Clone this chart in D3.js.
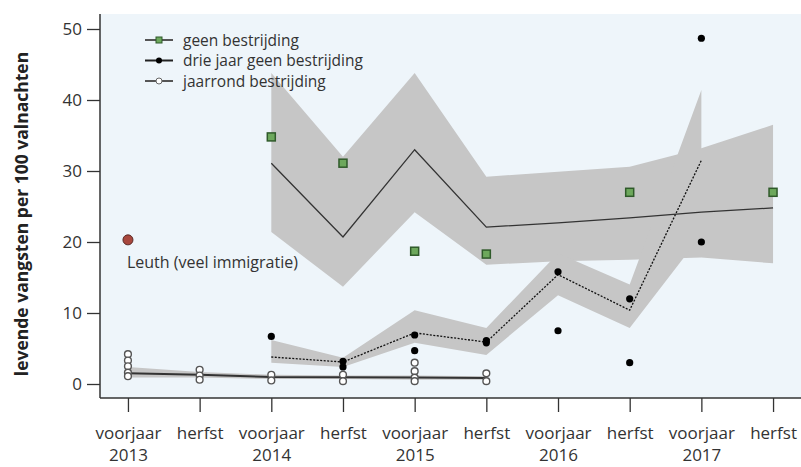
<!DOCTYPE html>
<html>
<head>
<meta charset="utf-8">
<script src="https://cdn.jsdelivr.net/npm/d3@7"></script>
<style>
  body { margin: 0; background: #fff; }
  svg { display: block; font-family: "Open Sans", sans-serif; }
</style>
</head>
<body>
<div class="graph"></div>
<script>
// periods on the x axis
var periods = ["voorjaar 2013", "herfst 2013", "voorjaar 2014", "herfst 2014", "voorjaar 2015",
               "herfst 2015", "voorjaar 2016", "herfst 2016", "voorjaar 2017", "herfst 2017"];
var seasonLabels = ["voorjaar", "herfst", "voorjaar", "herfst", "voorjaar", "herfst", "voorjaar", "herfst", "voorjaar", "herfst"];
var yearLabels = ["2013", "", "2014", "", "2015", "", "2016", "", "2017", ""];
var yTicks = [0, 10, 20, 30, 40, 50];

// geen bestrijding (green squares + fit + band)
var geenIdx = [2, 3, 4, 5, 7, 9];
var geenVals = [34.8, 31.1, 18.7, 18.3, 27.0, 27.0];
var geenFitIdx = [2, 3, 4, 5, 6, 7, 8, 9];
var geenFit = [31.1, 20.7, 33.0, 22.1, 22.7, 23.4, 24.2, 24.8];
var geenLow = [21.4, 13.7, 24.2, 16.8, 17.3, 17.5, 17.8, 17.0];
var geenHigh = [43.8, 32.0, 43.8, 29.2, 29.9, 30.6, 33.2, 36.5];

// drie jaar geen bestrijding (black dots + fit + band)
var drieIdx = [2, 3, 3, 4, 4, 5, 5, 6, 6, 7, 7, 8, 8];
var drieVals = [6.7, 3.2, 2.4, 6.9, 4.7, 6.1, 5.8, 15.8, 7.5, 12.0, 3.0, 48.7, 20.0];
var drieFitIdx = [2, 3, 4, 5, 6, 7, 8];
var drieFit = [3.8, 3.1, 7.2, 5.9, 15.4, 10.4, 31.5];
var drieLow = [3.0, 2.4, 5.8, 4.1, 12.5, 7.9, 21.0];
var drieHigh = [6.2, 3.7, 10.4, 7.9, 18.4, 14.0, 41.4];

// jaarrond bestrijding (open circles + fit + band)
var jaarIdx = [0, 0, 0, 0, 0, 1, 1, 1, 2, 2, 3, 3, 4, 4, 4, 4, 5, 5];
var jaarVals = [4.2, 3.3, 2.5, 1.6, 1.1, 2.0, 1.2, 0.6, 1.3, 0.5, 1.3, 0.4, 3.0, 1.8, 0.9, 0.4, 1.5, 0.4];
var jaarFitIdx = [0, 1, 2, 3, 4, 5];
var jaarFit = [1.5, 1.3, 1.0, 0.95, 0.9, 0.85];
var jaarLow = [0.9, 0.9, 0.7, 0.7, 0.6, 0.6];
var jaarHigh = [2.4, 1.7, 1.3, 1.2, 1.2, 1.1];

// Leuth
var leuthIdx = 0;
var leuthVal = 20.3;

var legendNames = ["geen bestrijding", "drie jaar geen bestrijding", "jaarrond bestrijding"];

var W = 801, H = 467;
var plot = { left: 100, right: 801, top: 14, bottom: 398 };

var svg = d3.select(".graph").append("svg").attr("width", W).attr("height", H);

var x = d3.scalePoint().domain(d3.range(periods.length))
    .range([plot.left, plot.right]).padding(0.39);
var y = d3.scaleLinear().domain([0, 50]).range([384, 29]);

// background
svg.append("rect").attr("x", plot.left).attr("y", plot.top)
  .attr("width", plot.right - plot.left).attr("height", plot.bottom - plot.top)
  .attr("fill", "#eef5fa");

function zip(idx, vals) { return idx.map(function (d, i) { return { i: d, v: vals[i] }; }); }
function band(idx, lo, hi) { return idx.map(function (d, i) { return { i: d, lo: lo[i], hi: hi[i] }; }); }

var area = d3.area().x(function (d) { return x(d.i); })
  .y0(function (d) { return y(d.lo); }).y1(function (d) { return y(d.hi); });
var line = d3.line().x(function (d) { return x(d.i); }).y(function (d) { return y(d.v); });

var g = svg.append("g");

// bands
[band(geenFitIdx, geenLow, geenHigh), band(drieFitIdx, drieLow, drieHigh), band(jaarFitIdx, jaarLow, jaarHigh)]
  .forEach(function (b) {
    g.append("path").datum(b).attr("d", area).attr("fill", "#c6c6c6");
  });

// fit lines
g.append("path").datum(zip(geenFitIdx, geenFit)).attr("d", line)
  .attr("fill", "none").attr("stroke", "#333").attr("stroke-width", 1.3);
g.append("path").datum(zip(drieFitIdx, drieFit)).attr("d", line)
  .attr("fill", "none").attr("stroke", "#111").attr("stroke-width", 1.3).attr("stroke-dasharray", "2,1.5");
g.append("path").datum(zip(jaarFitIdx, jaarFit)).attr("d", line)
  .attr("fill", "none").attr("stroke", "#333").attr("stroke-width", 2);

// points
g.selectAll(".jaar").data(zip(jaarIdx, jaarVals)).enter().append("circle")
  .attr("cx", function (d) { return x(d.i); }).attr("cy", function (d) { return y(d.v); })
  .attr("r", 3.4).attr("fill", "#fff").attr("stroke", "#555").attr("stroke-width", 1.4);

g.selectAll(".drie").data(zip(drieIdx, drieVals)).enter().append("circle")
  .attr("cx", function (d) { return x(d.i); }).attr("cy", function (d) { return y(d.v); })
  .attr("r", 3.6).attr("fill", "#000");

g.selectAll(".geen").data(zip(geenIdx, geenVals)).enter().append("rect")
  .attr("x", function (d) { return x(d.i) - 4; }).attr("y", function (d) { return y(d.v) - 4; })
  .attr("width", 8).attr("height", 8)
  .attr("fill", "#6da85c").attr("stroke", "#2f5a2a").attr("stroke-width", 1.5);

g.append("circle").attr("cx", x(leuthIdx)).attr("cy", y(leuthVal)).attr("r", 5)
  .attr("fill", "#a8473d").attr("stroke", "#5a2a26").attr("stroke-width", 1);
g.append("text").attr("x", x(leuthIdx) - 1).attr("y", y(leuthVal) + 28)
  .attr("font-size", 16).attr("fill", "#333").text("Leuth (veel immigratie)");

// legend
var leg = svg.append("g").attr("transform", "translate(145,40)");
legendNames.forEach(function (name, k) {
  var row = leg.append("g").attr("transform", "translate(0," + (k * 20.5) + ")");
  row.append("line").attr("x1", 0).attr("x2", 28).attr("y1", 0).attr("y2", 0)
    .attr("stroke", k === 1 ? "#222" : "#555").attr("stroke-width", 2);
  if (k === 0) {
    row.append("rect").attr("x", 11).attr("y", -3).attr("width", 6).attr("height", 6)
      .attr("fill", "#6da85c").attr("stroke", "#2f5a2a").attr("stroke-width", 1);
  } else if (k === 1) {
    row.append("circle").attr("cx", 14).attr("cy", 0).attr("r", 3).attr("fill", "#000");
  } else {
    row.append("circle").attr("cx", 14).attr("cy", 0).attr("r", 3)
      .attr("fill", "#fff").attr("stroke", "#666").attr("stroke-width", 1);
  }
  row.append("text").attr("x", 38).attr("y", 5.5).attr("font-size", 15.5).attr("fill", "#333").text(name);
});

// axes
var yAxis = svg.append("g").attr("transform", "translate(" + plot.left + ",0)")
  .call(d3.axisLeft(y).tickValues(yTicks).tickSize(13).tickPadding(5));
yAxis.select(".domain").remove();
yAxis.selectAll("line").attr("stroke", "#333").attr("stroke-width", 1.3);
yAxis.selectAll("text").attr("font-size", 17).attr("fill", "#333").attr("font-family", "Open Sans");
svg.append("line").attr("x1", plot.left).attr("x2", plot.left).attr("y1", plot.top).attr("y2", plot.bottom)
  .attr("stroke", "#333").attr("stroke-width", 1.5);

var xAxis = svg.append("g").attr("transform", "translate(0," + plot.bottom + ")")
  .call(d3.axisBottom(x).tickSize(14).tickPadding(15).tickFormat(function (d) { return seasonLabels[d]; }));
xAxis.select(".domain").remove();
xAxis.selectAll("line").attr("stroke", "#333").attr("stroke-width", 1.3);
xAxis.selectAll("text").attr("font-size", 17).attr("fill", "#333").attr("font-family", "Open Sans")
  .each(function (d) {
    if (yearLabels[d]) {
      d3.select(this).append("tspan").attr("x", 0).attr("dy", "1.28em").text(yearLabels[d]);
    }
  });
svg.append("line").attr("x1", plot.left).attr("x2", plot.right).attr("y1", plot.bottom).attr("y2", plot.bottom)
  .attr("stroke", "#333").attr("stroke-width", 1.5);

// y title
svg.append("text").attr("transform", "translate(28,214) rotate(-90)")
  .attr("text-anchor", "middle").attr("font-size", 17.5).attr("font-weight", "bold").attr("fill", "#222")
  .text("levende vangsten per 100 valnachten");
</script>
</body>
</html>
